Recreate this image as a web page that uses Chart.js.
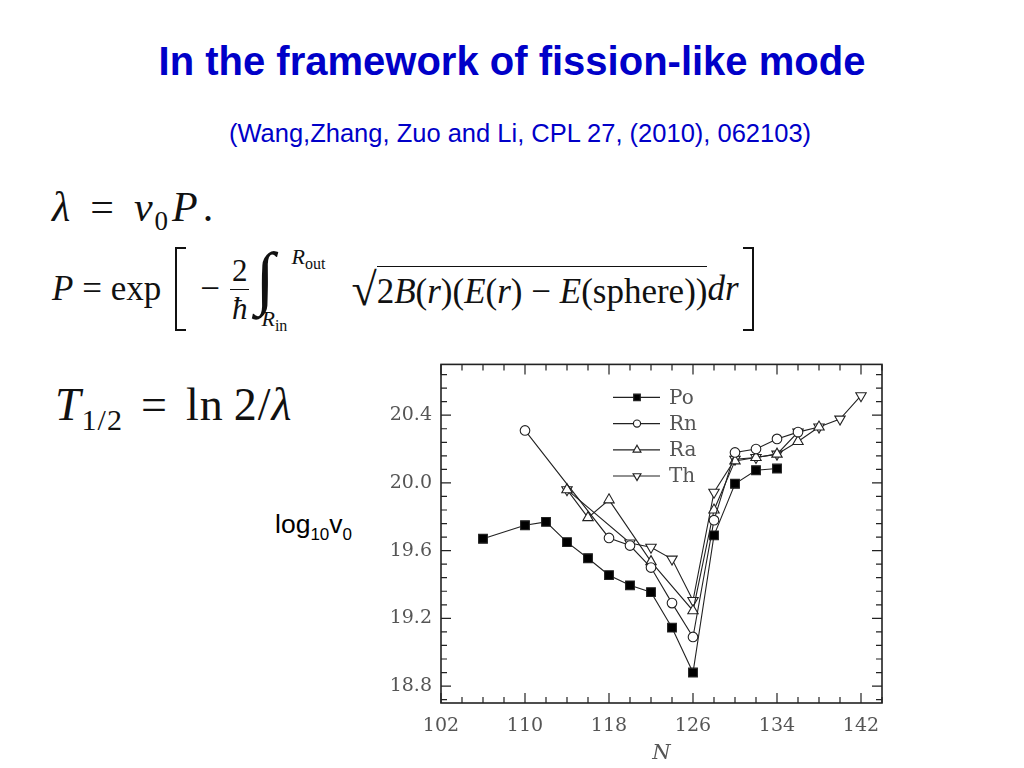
<!DOCTYPE html>
<html>
<head>
<meta charset="utf-8">
<script src="https://cdn.jsdelivr.net/npm/chart.js@4.4.1/dist/chart.umd.min.js"></script>
<style>
  body { margin: 0; width: 1024px; height: 768px; background: #fff; position: relative; overflow: hidden; }
  .abs { position: absolute; white-space: nowrap; }
  #title { left: 0; width: 1024px; top: 39px; text-align: center; font: bold 40px "Liberation Sans", Arial, sans-serif; color: #0000c8; }
  #cite { left: 0; width: 1040px; top: 119px; text-align: center; font: 25.5px "Liberation Sans", Arial, sans-serif; color: #0000c8; }
  .eq { font-family: "Liberation Serif", "Times New Roman", serif; color: #111; }
  .eq i { font-style: italic; }
  .row { display: flex; align-items: center; }
  .frac { display: inline-flex; flex-direction: column; align-items: center; font-size: 31px; line-height: 31px; margin: 0 6px 0 10px; }
  .frac .num { border-bottom: 1.5px solid #111; padding: 0 2px 3px; }
  .frac .den { padding-top: 3px; }
  .brk { width: 9px; height: 80px; border: 2px solid #111; }
  .brk.l { border-right: none; }
  .brk.r { border-left: none; }
  .sqrt { border-top: 1.5px solid #111; padding-top: 5px; }
  #ylab { left: 275px; top: 509px; font: 26.5px "Liberation Sans", Arial, sans-serif; color: #000; }
  #ylab sub { font-size: 17px; vertical-align: -7px; }
  #wrap { position: absolute; left: 380px; top: 352px; width: 512px; height: 414px; }
</style>
</head>
<body>
<div id="title" class="abs">In the framework of fission-like mode</div>
<div id="cite" class="abs">(Wang,Zhang, Zuo and Li, CPL 27, (2010), 062103)</div>

<div class="abs eq" style="left:52px; top:183px; font-size:42px; letter-spacing:2px;"><i>λ</i><span style="margin:0 18px;">=</span><i>ν</i><sub style="font-size:27px;">0</sub><i style="margin-left:2px;">P</i><span style="margin-left:3px;">.</span></div>

<div class="abs eq row" style="left:52px; top:248px; font-size:35px; height:82px;">
  <span><i>P</i> = exp</span>
  <span class="brk l" style="margin-left:14px;"></span>
  <span style="margin-left:14px;">−</span>
  <span class="frac"><span class="num">2</span><span class="den"><i>ħ</i></span></span>
  <span style="position:relative; width:92px; height:82px;">
    <span style="position:absolute; left:0; top:-10px; font-size:70px; font-style:italic;">∫</span>
    <span style="position:absolute; left:36px; top:-4px; font-size:22px;"><i>R</i><sub style="font-size:16px;">out</sub></span>
    <span style="position:absolute; left:6px; top:58px; font-size:22px;"><i>R</i><sub style="font-size:16px;">in</sub></span>
  </span>
  <span style="font-size:46px; margin-left:4px;">√</span>
  <span class="sqrt">2<i>B</i>(<i>r</i>)(<i>E</i>(<i>r</i>) − <i>E</i>(sphere))</span>
  <span><i>dr</i></span>
  <span class="brk r" style="margin-left:4px;"></span>
</div>

<div class="abs eq" style="left:55px; top:378px; font-size:46px; letter-spacing:1px;"><i>T</i><sub style="font-size:30px;">1/2</sub><span style="margin:0 18px;">=</span>ln<span style="margin-left:10px;">2/</span><i>λ</i></div>

<div id="ylab" class="abs">log<sub>10</sub>v<sub>0</sub></div>

<div id="wrap"><canvas id="chart"></canvas></div>

<script>
// neutron numbers and log10(v0) for each isotope chain
const nPo = [106, 110, 112, 114, 116, 118, 120, 122, 124, 126, 128, 130, 132, 134];
const po  = [19.67, 19.75, 19.77, 19.65, 19.555, 19.455, 19.395, 19.355, 19.145, 18.88, 19.69, 19.995, 20.075, 20.085];

const nRn = [110, 118, 120, 122, 124, 126, 128, 130, 132, 134, 136];
const rn  = [20.31, 19.675, 19.63, 19.50, 19.29, 19.09, 19.78, 20.18, 20.20, 20.26, 20.30];

const nRa = [114, 116, 118, 122, 126, 128, 130, 132, 134, 136, 138];
const ra  = [19.96, 19.795, 19.90, 19.535, 19.245, 19.84, 20.13, 20.15, 20.17, 20.245, 20.33];

const nTh = [114, 120, 122, 124, 126, 128, 130, 132, 134, 136, 138, 140, 142];
const th  = [19.96, 19.645, 19.62, 19.55, 19.305, 19.945, 20.14, 20.15, 20.17, 20.30, 20.33, 20.377, 20.515];

const seriesNames = ["Po", "Rn", "Ra", "Th"];

const xTickLabels = [102, 110, 118, 126, 134, 142];
const yTickLabels = [18.8, 19.2, 19.6, 20.0, 20.4];
const xMinorStep = 2;
const yMinorStep = 0.08;

const lineCol = "#222";
const textCol = "#555";

function pts(ns, vs) {
    return ns.map((n, i) => ({ x: n, y: vs[i] }));
}

const xTicks = [];
for (let v = 102; v <= 144; v += xMinorStep) xTicks.push(v);
const yTicks = [];
for (let k = Math.ceil(18.7 / yMinorStep); k * yMinorStep < 20.7; k++) yTicks.push(+(k * yMinorStep).toFixed(2));

const isMajorY = v => yTickLabels.some(l => Math.abs(l - v) < 1e-6);

const datasets = [
    { label: "Po", data: pts(nPo, po), pointStyle: "rect", pointRadius: 6.2, pointBackgroundColor: "#000", pointRotation: 0 },
    { label: "Rn", data: pts(nRn, rn), pointStyle: "circle", pointRadius: 4.8, pointBackgroundColor: "#fff", pointRotation: 0 },
    { label: "Ra", data: pts(nRa, ra), pointStyle: "triangle", pointRadius: 6, pointBackgroundColor: "#fff", pointRotation: 0 },
    { label: "Th", data: pts(nTh, th), pointStyle: "triangle", pointRadius: 6, pointBackgroundColor: "#fff", pointRotation: 180 },
].map(d => Object.assign(d, {
    showLine: true,
    borderColor: lineCol,
    borderWidth: 1.1,
    pointBorderColor: lineCol,
    pointBorderWidth: 1.1,
}));

// frame, inward ticks on all four sides, and the in-plot legend
const framePlugin = {
    id: "frame",
    afterDraw(chart) {
        const { ctx, chartArea: a, scales } = chart;
        ctx.save();
        ctx.strokeStyle = lineCol;
        ctx.lineWidth = 1.2;
        ctx.beginPath();
        xTicks.forEach(v => {
            const x = scales.x.getPixelForValue(v);
            const len = xTickLabels.includes(v) ? 10 : 6;
            ctx.moveTo(x, a.bottom); ctx.lineTo(x, a.bottom - len);
            ctx.moveTo(x, a.top); ctx.lineTo(x, a.top + len);
        });
        yTicks.forEach(v => {
            const y = scales.y.getPixelForValue(v);
            const len = isMajorY(v) ? 10 : 6;
            ctx.moveTo(a.left, y); ctx.lineTo(a.left + len, y);
            ctx.moveTo(a.right, y); ctx.lineTo(a.right - len, y);
        });
        ctx.stroke();
        ctx.lineWidth = 1.6;
        ctx.strokeRect(a.left, a.top, a.right - a.left, a.bottom - a.top);

        // legend
        const lx = a.left + 172, ly = a.top + 33, rowH = 26.2;
        ctx.font = "20px 'DejaVu Serif', serif";
        ctx.textBaseline = "middle";
        chart.data.datasets.forEach((d, i) => {
            const y = ly + i * rowH;
            ctx.strokeStyle = lineCol;
            ctx.lineWidth = 1.2;
            ctx.beginPath();
            ctx.moveTo(lx, y); ctx.lineTo(lx + 47, y);
            ctx.stroke();
            ctx.fillStyle = d.pointBackgroundColor;
            Chart.helpers.drawPoint(ctx, {
                pointStyle: d.pointStyle,
                radius: d.pointRadius * 0.75,
                rotation: d.pointRotation,
                borderWidth: 1.1,
            }, lx + 24, y);
            ctx.fillStyle = textCol;
            ctx.fillText(seriesNames[i], lx + 56, y + 1);
        });
        ctx.restore();
    }
};

new Chart(document.getElementById("chart"), {
    type: "scatter",
    data: { datasets },
    options: {
        responsive: true,
        maintainAspectRatio: false,
        animation: false,
        layout: { padding: { top: 6, right: 10, left: 0, bottom: 0 } },
        plugins: { legend: { display: false }, tooltip: { enabled: false } },
        scales: {
            x: {
                type: "linear",
                min: 102,
                max: 144,
                afterBuildTicks: s => { s.ticks = xTicks.map(v => ({ value: v })); },
                afterFit: s => { s.height = 63; },
                grid: { display: false },
                border: { display: false },
                ticks: {
                    autoSkip: false,
                    maxRotation: 0,
                    padding: 4,
                    color: textCol,
                    font: { family: "'DejaVu Serif', serif", size: 19 },
                    callback: v => xTickLabels.includes(v) ? String(v) : "",
                },
                title: {
                    display: true,
                    text: "N",
                    color: textCol,
                    padding: { top: 5, bottom: 0 },
                    font: { family: "'DejaVu Serif', serif", size: 21, style: "italic" },
                },
            },
            y: {
                type: "linear",
                min: 18.7,
                max: 20.7,
                afterBuildTicks: s => { s.ticks = yTicks.map(v => ({ value: v })); },
                afterFit: s => { s.width = 61; },
                grid: { display: false },
                border: { display: false },
                ticks: {
                    autoSkip: false,
                    padding: 1,
                    color: textCol,
                    font: { family: "'DejaVu Serif', serif", size: 19 },
                    callback: v => isMajorY(v) ? v.toFixed(1) : "",
                },
            },
        },
    },
    plugins: [framePlugin],
});
</script>
</body>
</html>
